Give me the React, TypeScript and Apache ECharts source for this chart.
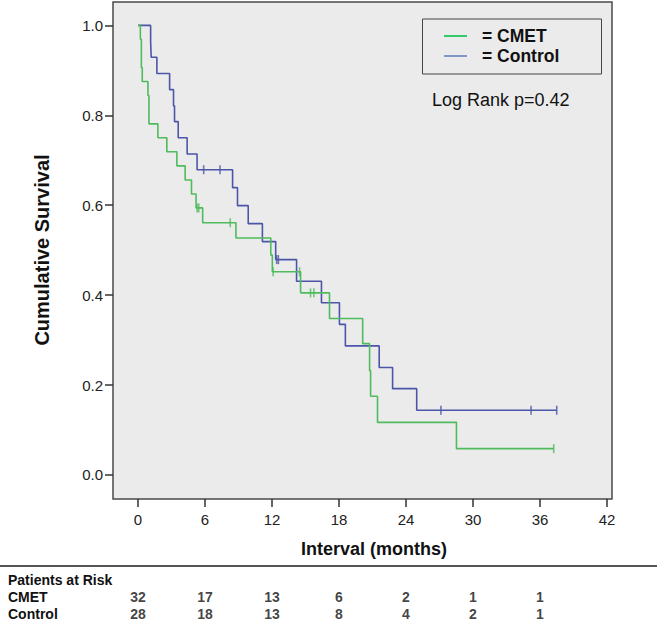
import React, { useEffect, useRef } from "react";
import * as echarts from "echarts";

const xTicks = [0, 6, 12, 18, 24, 30, 36, 42];
const yTicks = [0, 0.2, 0.4, 0.6, 0.8, 1.0];

// Kaplan-Meier step points [months, cumulative survival]
const cmetCurve: number[][] = [
  [0, 1], [0.21, 0.969], [0.3, 0.906], [0.38, 0.875], [0.89, 0.844], [0.98, 0.781],
  [1.78, 0.75], [2.58, 0.719], [3.48, 0.6875], [4.22, 0.656], [4.79, 0.625],
  [5.2, 0.594], [5.79, 0.561], [8.77, 0.527], [11.89, 0.489], [12.03, 0.452],
  [14.56, 0.405], [17.15, 0.348], [20.12, 0.292], [20.74, 0.232], [20.83, 0.175],
  [21.45, 0.117], [28.52, 0.0585], [37.23, 0.0585],
];
const cmetCensored: number[][] = [
  [5.29, 0.594], [5.44, 0.594], [8.26, 0.561], [12.1, 0.452], [14.47, 0.452],
  [15.45, 0.405], [15.75, 0.405], [37.23, 0.0585],
];
const controlCurve: number[][] = [
  [0, 1], [1.13, 0.964], [1.18, 0.929], [1.69, 0.893], [2.83, 0.857], [3.18, 0.821],
  [3.27, 0.786], [3.6, 0.75], [4.4, 0.714], [5.29, 0.679], [8.47, 0.639], [8.91, 0.599],
  [9.87, 0.559], [11.14, 0.519], [12.33, 0.479], [14.2, 0.431], [16.43, 0.383],
  [18.04, 0.335], [18.57, 0.287], [21.6, 0.239], [22.8, 0.192], [24.96, 0.144],
  [37.5, 0.144],
];
const controlCensored: number[][] = [
  [5.88, 0.679], [7.34, 0.679], [12.42, 0.479], [12.57, 0.479], [27.13, 0.144],
  [35.2, 0.144], [37.5, 0.144],
];

const riskTimes = [0, 6, 12, 18, 24, 30, 36];
const cmetAtRisk = [32, 17, 13, 6, 2, 1, 1];
const controlAtRisk = [28, 18, 13, 8, 4, 2, 1];

const GREEN = "#4fbb5c";
const BLUE = "#4b56a8";
const FONT = "'Liberation Sans', Arial, Helvetica, sans-serif";
const X_MIN = -2.24;
const X_MAX = 42.45;

export default function App() {
  const ref = useRef<HTMLDivElement>(null);
  useEffect(() => {
    if (!ref.current) return;
    const chart = echarts.init(ref.current, undefined, { renderer: "svg" });
    const riskLabel = {
      show: true,
      position: "inside",
      formatter: (p: any) => String(p.value[2]),
      fontWeight: "bold",
      fontSize: 14,
      color: "#111",
      fontFamily: FONT,
    };
    chart.setOption({
      animation: false,
      textStyle: { fontFamily: FONT },
      grid: [
        {
          left: 113, top: 2, width: 499, height: 497, show: true,
          backgroundColor: "#ebebeb", borderColor: "#4a4a4a", borderWidth: 1.5,
        },
        { left: 113, top: 588, width: 499, height: 34 },
      ],
      xAxis: [
        {
          type: "value", gridIndex: 0, min: X_MIN, max: X_MAX,
          axisLine: { show: false, onZero: false },
          axisTick: { show: true, customValues: xTicks, length: 8, lineStyle: { color: "#333", width: 1.5 } },
          axisLabel: { customValues: xTicks, margin: 13, fontSize: 15, color: "#222", fontFamily: FONT },
          splitLine: { show: false },
        },
        { type: "value", gridIndex: 1, min: X_MIN, max: X_MAX, show: false },
      ],
      yAxis: [
        {
          type: "value", gridIndex: 0, min: -0.0535, max: 1.052,
          axisLine: { show: false, onZero: false },
          axisTick: { show: true, customValues: yTicks, length: 8, lineStyle: { color: "#333", width: 1.5 } },
          axisLabel: {
            customValues: yTicks, margin: 10, fontSize: 15, color: "#222", fontFamily: FONT,
            formatter: (v: number) => v.toFixed(1),
          },
          splitLine: { show: false },
        },
        { type: "value", gridIndex: 1, min: 0, max: 2, show: false },
      ],
      series: [
        {
          type: "line", name: "Control", step: "end", data: controlCurve, symbol: "none",
          lineStyle: { color: BLUE, width: 1.6 }, itemStyle: { color: BLUE },
        },
        {
          type: "line", name: "CMET", step: "end", data: cmetCurve, symbol: "none",
          lineStyle: { color: GREEN, width: 1.6 }, itemStyle: { color: GREEN },
        },
        {
          type: "scatter", data: controlCensored, symbol: "rect", symbolSize: [1.6, 9],
          itemStyle: { color: BLUE },
        },
        {
          type: "scatter", data: cmetCensored, symbol: "rect", symbolSize: [1.6, 9],
          itemStyle: { color: GREEN },
        },
        {
          type: "scatter", xAxisIndex: 1, yAxisIndex: 1, symbolSize: 1,
          itemStyle: { color: "rgba(0,0,0,0)" },
          data: riskTimes.map((t, i) => [t, 1.5, cmetAtRisk[i]]),
          label: riskLabel,
        },
        {
          type: "scatter", xAxisIndex: 1, yAxisIndex: 1, symbolSize: 1,
          itemStyle: { color: "rgba(0,0,0,0)" },
          data: riskTimes.map((t, i) => [t, 0.5, controlAtRisk[i]]),
          label: riskLabel,
        },
      ],
      graphic: [
        {
          type: "rect", shape: { x: 422.5, y: 19, width: 179, height: 55 },
          style: { fill: "#ebebeb", stroke: "#444", lineWidth: 1 }, z: 10,
        },
        {
          type: "line", shape: { x1: 444, y1: 36, x2: 467, y2: 36 },
          style: { stroke: "#35c96a", lineWidth: 2 }, z: 11,
        },
        {
          type: "line", shape: { x1: 444, y1: 56, x2: 467, y2: 56 },
          style: { stroke: "#8096c6", lineWidth: 2 }, z: 11,
        },
        {
          type: "text", x: 482, y: 36, z: 11,
          style: { text: "= CMET", font: `bold 17.5px ${FONT}`, fill: "#111", textVerticalAlign: "middle" },
        },
        {
          type: "text", x: 482, y: 56, z: 11,
          style: { text: "= Control", font: `bold 17.5px ${FONT}`, fill: "#111", textVerticalAlign: "middle" },
        },
        {
          type: "text", x: 432, y: 100, z: 11,
          style: { text: "Log Rank p=0.42", font: `18px ${FONT}`, fill: "#111", textVerticalAlign: "middle" },
        },
        {
          type: "text", x: 42, y: 250, rotation: Math.PI / 2,
          style: { text: "Cumulative Survival", font: `bold 20px ${FONT}`, fill: "#111", textAlign: "center", textVerticalAlign: "middle" },
        },
        {
          type: "text", x: 374, y: 549,
          style: { text: "Interval (months)", font: `bold 18px ${FONT}`, fill: "#111", textAlign: "center", textVerticalAlign: "middle" },
        },
        {
          type: "line", shape: { x1: 0, y1: 566, x2: 657, y2: 566 },
          style: { stroke: "#555", lineWidth: 2 },
        },
        {
          type: "text", x: 8, y: 580,
          style: { text: "Patients at Risk", font: `bold 14px ${FONT}`, fill: "#111", textVerticalAlign: "middle" },
        },
        {
          type: "text", x: 8, y: 597,
          style: { text: "CMET", font: `bold 14px ${FONT}`, fill: "#111", textVerticalAlign: "middle" },
        },
        {
          type: "text", x: 8, y: 614,
          style: { text: "Control", font: `bold 14px ${FONT}`, fill: "#111", textVerticalAlign: "middle" },
        },
      ],
    });
    return () => chart.dispose();
  }, []);
  return (
    <div
      ref={ref}
      style={{ position: "fixed", left: 0, top: 0, width: 657, height: 622, background: "#fff" }}
    />
  );
}
